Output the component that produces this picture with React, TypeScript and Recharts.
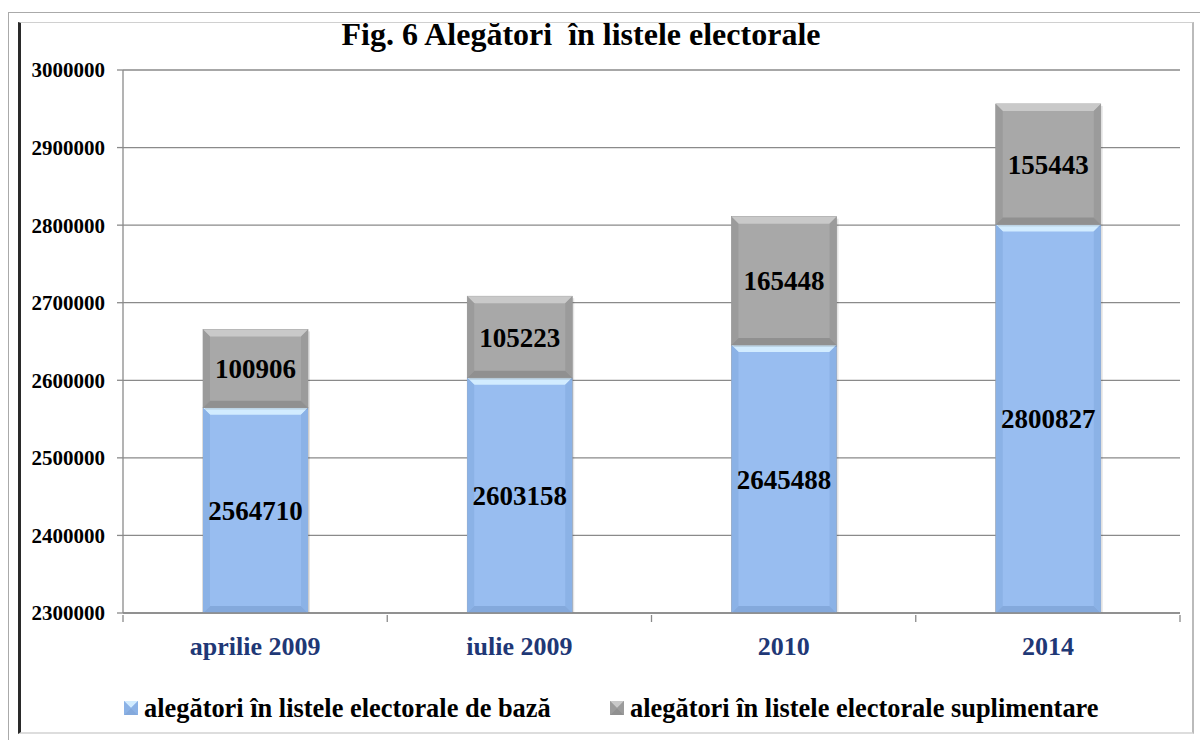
import React from 'react';
import {
  BarChart,
  Bar,
  XAxis,
  YAxis,
  CartesianGrid,
  LabelList
} from 'recharts';

const categories = ['aprilie 2009', 'iulie 2009', '2010', '2014'];
const baseVoters = [2564710, 2603158, 2645488, 2800827];
const extraVoters = [100906, 105223, 165448, 155443];
const yTicks = [2300000, 2400000, 2500000, 2600000, 2700000, 2800000, 2900000, 3000000];

const data = categories.map((name, i) => ({
  name,
  baza: baseVoters[i],
  supl: extraVoters[i]
}));

const FONT = '"Liberation Serif", "Times New Roman", serif';

const palette = {
  baza: { main: '#98bdf0', top: '#d2ecff', side: '#8bb2e6', bottom: '#84a9dc' },
  supl: { main: '#a8a8a8', top: '#c9c9c9', side: '#9b9b9b', bottom: '#909090' }
};

// bevelled bar, clamped to the plot bottom (the stack starts at 0, below the domain)
const makeBevel = (c: typeof palette.baza) => (props: any) => {
  const { x, y, width, background } = props;
  let bottom = y + props.height;
  if (background && background.height) bottom = Math.min(bottom, background.y + background.height);
  const h = bottom - y;
  if (h <= 0) return null;
  const b = Math.min(7, h / 3);
  const r = x + width;
  return (
    <g>
      <rect x={x + 2} y={y + 2} width={width} height={h} fill="#000" opacity={0.1} />
      <rect x={x} y={y} width={width} height={h} fill={c.main} stroke="#909090" strokeWidth={0.6} />
      <polygon points={`${x},${y} ${r},${y} ${r - b},${y + b} ${x + b},${y + b}`} fill={c.top} />
      <polygon points={`${x},${y} ${x + b},${y + b} ${x + b},${bottom - b} ${x},${bottom}`} fill={c.side} />
      <polygon points={`${r},${y} ${r - b},${y + b} ${r - b},${bottom - b} ${r},${bottom}`} fill={c.side} />
      <polygon points={`${x},${bottom} ${x + b},${bottom - b} ${r - b},${bottom - b} ${r},${bottom}`} fill={c.bottom} />
    </g>
  );
};

const CategoryTick = (props: any) => {
  const { x, y, payload, index } = props;
  const half = payload && payload.offset ? payload.offset : 132;
  return (
    <g>
      <line x1={x + half} y1={y} x2={x + half} y2={y + 7} stroke="#8a8a8a" strokeWidth={1.3} />
      {index === 0 && <line x1={x - half} y1={y} x2={x - half} y2={y + 7} stroke="#8a8a8a" strokeWidth={1.3} />}
      <text x={x} y={y + 40} textAnchor="middle" fill="#1f3876" fontFamily={FONT} fontWeight="bold" fontSize={26}>
        {payload.value}
      </text>
    </g>
  );
};

const Swatch = ({ c }: { c: typeof palette.baza }) => (
  <svg width={14} height={14} style={{ marginRight: 6 }}>
    <rect x={0} y={0} width={14} height={14} fill={c.main} />
    <polygon points="0,0 14,0 7,7" fill={c.top} />
    <polygon points="0,0 7,7 0,14" fill={c.side} />
    <polygon points="14,0 7,7 14,14" fill={c.side} />
    <polygon points="0,14 7,7 14,14" fill={c.bottom} />
  </svg>
);

const LegendBox = () => (
  <div style={{ position: 'absolute', left: 0, top: 692, width: 1200, height: 32, fontFamily: FONT, fontWeight: 'bold', fontSize: 26.4, color: '#000', lineHeight: '32px' }}>
    <div style={{ position: 'absolute', left: 124, top: 0, display: 'flex', alignItems: 'center' }}>
      <Swatch c={palette.baza} />
      <span>alegători în listele electorale de bază</span>
    </div>
    <div style={{ position: 'absolute', left: 610, top: 0, display: 'flex', alignItems: 'center' }}>
      <Swatch c={palette.supl} />
      <span>alegători în listele electorale suplimentare</span>
    </div>
  </div>
);

export default function App() {
  return (
    <div style={{ position: 'fixed', left: 0, top: 0, width: 1200, height: 740, background: '#fff', overflow: 'hidden' }}>
      <div style={{ position: 'absolute', left: 8, top: 12, width: 1200, height: 740, borderTop: '1.5px solid #aaa', borderLeft: '1.5px solid #aaa' }} />
      <div
        style={{
          position: 'absolute', left: 18, top: 22, width: 1171, height: 709,
          borderLeft: '3px solid #2a2a2a', borderTop: '1px solid #d0d0d0',
          borderRight: '2px solid #bbb', borderBottom: '2px solid #ddd'
        }}
      />
      <div style={{ position: 'absolute', left: 0, top: 0 }}>
        <BarChart width={1200} height={740} data={data} margin={{ top: 70, right: 20, bottom: 77, left: 23 }} barSize={105}>
          <text x={581} y={45} textAnchor="middle" fontFamily={FONT} fontWeight="bold" fontSize={32} fill="#000" style={{ whiteSpace: 'pre' }}>
            Fig. 6 Alegători  în listele electorale
          </text>
          <CartesianGrid vertical={false} stroke="#8a8a8a" strokeWidth={1.3} />
          <XAxis
            dataKey="name"
            stroke="#8a8a8a"
            strokeWidth={1.3}
            tickLine={false}
            tickSize={0}
            tick={<CategoryTick />}
            interval={0}
            height={50}
          />
          <YAxis
            width={100}
            domain={[2300000, 3000000]}
            ticks={yTicks}
            allowDataOverflow
            stroke="#8a8a8a"
            strokeWidth={1.3}
            tickSize={6}
            tickMargin={12}
            tick={{ fontFamily: FONT, fontWeight: 'bold', fontSize: 21, fill: '#000' }}
          />
          <Bar dataKey="baza" stackId="a" shape={makeBevel(palette.baza)} isAnimationActive={false}>
            <LabelList dataKey="baza" position="center" fontFamily={FONT} fontWeight="bold" fontSize={27} fill="#000" />
          </Bar>
          <Bar dataKey="supl" stackId="a" shape={makeBevel(palette.supl)} isAnimationActive={false}>
            <LabelList dataKey="supl" position="center" fontFamily={FONT} fontWeight="bold" fontSize={27} fill="#000" />
          </Bar>
        </BarChart>
      </div>
      <LegendBox />
    </div>
  );
}
